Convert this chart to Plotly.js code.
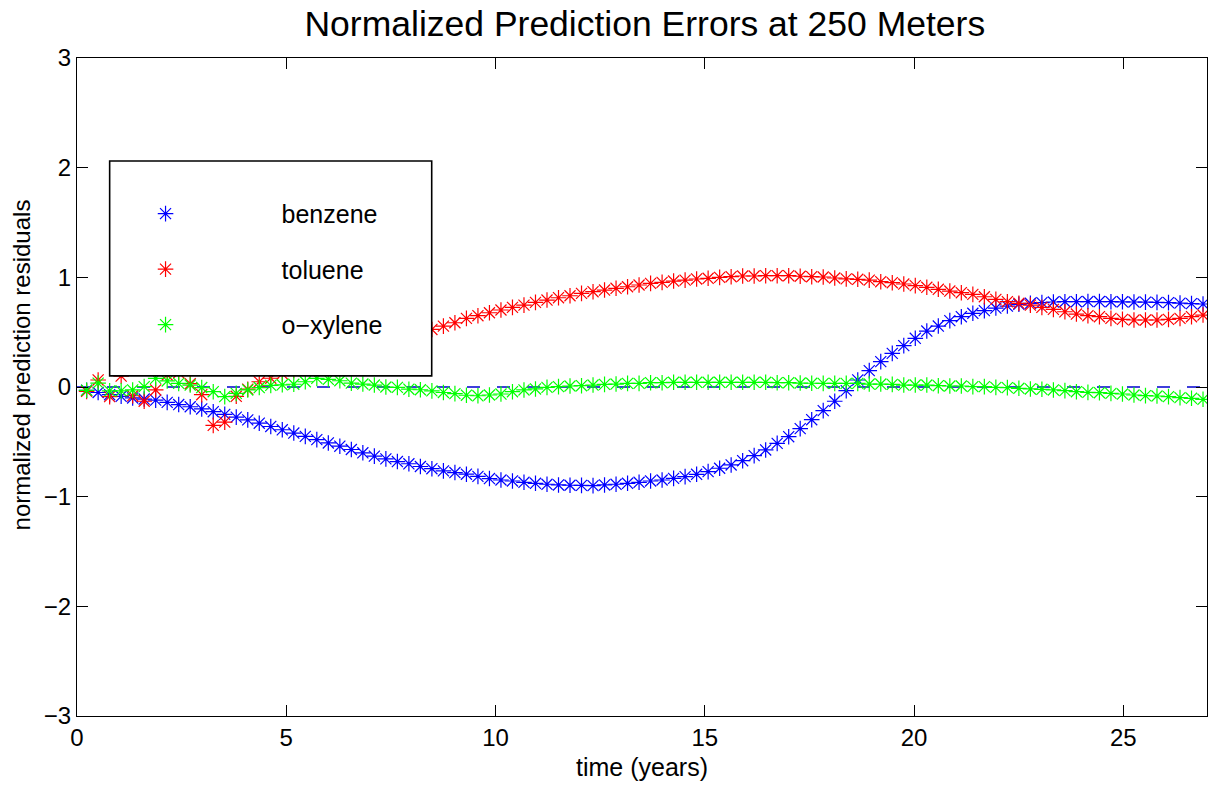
<!DOCTYPE html>
<html>
<head>
<meta charset="utf-8">
<script src="https://cdn.plot.ly/plotly-3.0.1.min.js"></script>
<style>html,body{margin:0;padding:0;background:#fff;}#chart{width:1211px;height:788px;}</style>
</head>
<body>
<div id="chart"></div>
<script>
// time (years)
const timeYears = [0.23,0.505,0.78,1.055,1.33,1.605,1.88,2.155,2.43,2.705,
2.98,3.255,3.53,3.805,4.08,4.355,4.63,4.905,5.18,5.455,
5.73,6.005,6.28,6.555,6.83,7.105,7.38,7.655,7.93,8.205,
8.48,8.755,9.03,9.305,9.58,9.855,10.13,10.405,10.68,10.955,
11.23,11.505,11.78,12.055,12.33,12.605,12.88,13.155,13.43,13.705,
13.98,14.255,14.53,14.805,15.08,15.355,15.63,15.905,16.18,16.455,
16.73,17.005,17.28,17.555,17.83,18.105,18.38,18.655,18.93,19.205,
19.48,19.755,20.03,20.305,20.58,20.855,21.13,21.405,21.68,21.955,
22.23,22.505,22.78,23.055,23.33,23.605,23.88,24.155,24.43,24.705,
24.98,25.255,25.53,25.805,26.08,26.355,26.63,26.905];

const benzene = [-0.03,-0.05,-0.07,-0.085,-0.10,-0.11,-0.12,-0.14,-0.16,-0.18,
-0.20,-0.225,-0.25,-0.275,-0.30,-0.33,-0.36,-0.39,-0.42,-0.45,
-0.48,-0.51,-0.54,-0.57,-0.60,-0.63,-0.655,-0.68,-0.70,-0.725,
-0.745,-0.765,-0.78,-0.795,-0.815,-0.835,-0.848,-0.857,-0.869,-0.878,
-0.887,-0.893,-0.896,-0.897,-0.899,-0.893,-0.887,-0.878,-0.869,-0.857,
-0.848,-0.833,-0.817,-0.796,-0.772,-0.741,-0.711,-0.672,-0.626,-0.574,
-0.514,-0.453,-0.38,-0.298,-0.215,-0.13,-0.033,0.064,0.149,0.231,
0.307,0.377,0.444,0.51,0.556,0.605,0.641,0.672,0.696,0.72,
0.738,0.754,0.763,0.769,0.775,0.778,0.778,0.779,0.779,0.778,
0.777,0.775,0.774,0.772,0.769,0.765,0.76,0.757];

const toluene = [-0.04,0.064,-0.088,0.10,-0.08,-0.13,-0.027,0.11,0.13,0.03,
-0.07,-0.35,-0.32,-0.085,-0.02,0.048,0.08,0.12,0.15,0.18,
0.21,0.24,0.27,0.30,0.33,0.36,0.39,0.42,0.45,0.49,
0.525,0.555,0.586,0.626,0.65,0.677,0.702,0.726,0.747,0.772,
0.793,0.814,0.832,0.854,0.869,0.884,0.9,0.914,0.93,0.945,
0.954,0.966,0.975,0.985,0.991,1.0,1.006,1.012,1.012,1.015,
1.015,1.015,1.01,1.006,1.003,0.994,0.986,0.982,0.975,0.96,
0.951,0.939,0.924,0.909,0.891,0.875,0.86,0.845,0.823,0.799,
0.778,0.763,0.747,0.726,0.708,0.686,0.665,0.65,0.641,0.626,
0.617,0.611,0.611,0.611,0.617,0.626,0.641,0.656];

const oxylene = [-0.03,0.035,-0.035,-0.035,-0.027,0.003,0.079,0.055,0.033,0.018,
-0.005,-0.043,-0.088,-0.058,-0.027,-0.005,0.015,0.02,0.025,0.048,
0.079,0.07,0.057,0.035,0.027,0.018,0.0,-0.003,-0.02,-0.025,
-0.035,-0.05,-0.06,-0.075,-0.08,-0.073,-0.064,-0.043,-0.027,-0.018,
-0.003,0.003,0.009,0.012,0.018,0.024,0.027,0.033,0.033,0.039,
0.039,0.043,0.043,0.043,0.043,0.043,0.043,0.043,0.043,0.043,
0.039,0.039,0.036,0.034,0.033,0.033,0.033,0.033,0.027,0.027,
0.024,0.018,0.018,0.018,0.012,0.009,0.009,0.003,0.003,-0.003,
-0.006,-0.012,-0.018,-0.021,-0.027,-0.033,-0.043,-0.049,-0.052,-0.058,
-0.064,-0.073,-0.079,-0.082,-0.088,-0.097,-0.103,-0.112];

const seriesNames = ['benzene','toluene','o\u2212xylene'];
const seriesColors = ['#0000ff','#ff0000','#00ff00'];
const refLineX = [0, 27];
const refLineY = [0, 0];
const xTicks = [0,5,10,15,20,25];
const yTicks = [-3,-2,-1,0,1,2,3];

const seriesData = [benzene, toluene, oxylene];
const traces = [{
  x: refLineX, y: refLineY, type:'scatter', mode:'lines',
  line:{color:'#0000d0', width:1.4, dash:'13px,17px'},
  showlegend:false, hoverinfo:'skip'
}];
seriesData.forEach((ys, k) => {
  traces.push({
    x: timeYears, y: ys, type:'scatter', mode:'markers',
    name: seriesNames[k], legendgroup: 'g'+k,
    marker:{symbol:'asterisk-open', size:13, color:seriesColors[k],
            line:{color:seriesColors[k], width:1.2}}
  });
});

const axisCommon = {
  showgrid:false, zeroline:false, showline:true, linecolor:'#000', linewidth:1.2,
  mirror:'ticks', ticks:'inside', ticklen:11, tickwidth:1, tickcolor:'#000',
  tickfont:{size:24, color:'#000'}
};

const layout = {
  width:1211, height:788,
  margin:{l:77, r:4, t:58, b:72},
  paper_bgcolor:'#fff', plot_bgcolor:'#fff',
  font:{family:'"Liberation Sans", Arial, Helvetica, sans-serif', color:'#000', size:24},
  title:{text:'Normalized Prediction Errors at 250 Meters', font:{size:35.5, color:'#000'},
         x:0.5025, xref:'paper', xanchor:'center', y:1-24/788, yref:'container', yanchor:'middle'},
  xaxis:Object.assign({}, axisCommon, {range:[0,27], tickvals:xTicks,
         title:{text:'time (years)', font:{size:25}, standoff:8}}),
  yaxis:Object.assign({}, axisCommon, {range:[-3,3], tickvals:yTicks}),
  annotations:[{text:'normalized prediction residuals', textangle:-90, showarrow:false,
         xref:'paper', yref:'paper', x:-0.049, y:0.5337, xanchor:'center', yanchor:'middle',
         font:{size:24, color:'#000'}}],
  showlegend:true,
  legend:{x:-0.0243, xanchor:'left', y:0.798, yanchor:'top', bgcolor:'rgba(0,0,0,0)',
          borderwidth:0, font:{size:25, color:'#000'}, itemwidth:222,
          traceorder:'grouped', tracegroupgap:20},
  shapes:[{type:'rect', xref:'paper', yref:'paper', x0:0.0289, x1:0.3139, y0:0.5169, y1:0.8435,
           fillcolor:'#fff', line:{color:'#000', width:1.6}, layer:'above'}]
};

Plotly.newPlot('chart', traces, layout, {displayModeBar:false, staticPlot:true});
</script>
</body>
</html>
